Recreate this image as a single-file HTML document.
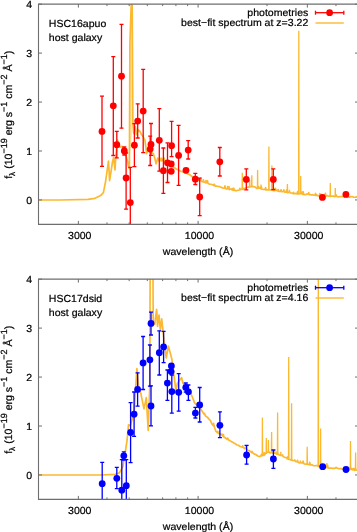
<!DOCTYPE html>
<html><head><meta charset="utf-8"><style>
html,body{margin:0;padding:0;background:#fff;width:357px;height:532px;overflow:hidden}
svg{display:block;will-change:transform}
text{fill:#000;stroke:#000;stroke-width:0.22px;text-rendering:geometricPrecision}
</style></head><body>
<svg width="357" height="532" viewBox="0 0 357 532" font-family='"Liberation Sans", sans-serif' font-size="10.55" fill="#000">
<defs></defs>
<clipPath id="c1"><rect x="38.5" y="4.1" width="320.0" height="220.3"/></clipPath>
<g clip-path="url(#c1)"><polygon points="129.9,44 132.2,0 132.9,123 129.5,160" fill="#fde6b0"/><polyline points="30.00,200.00 60.00,200.00 88.00,199.40 95.00,198.30 100.60,195.60 103.40,192.60 105.50,182.00 108.50,161.00 109.60,180.60 112.50,162.00 113.60,157.50 115.00,170.00 115.80,155.80 117.50,140.00 119.20,147.40 122.00,146.30 125.40,154.00 127.70,162.00 128.80,167.70 129.40,168.50 129.90,44.00 132.00,-20.00 132.90,123.40 133.70,133.40 135.40,126.70 136.50,134.60 138.20,130.00 139.80,131.20 141.50,134.60 143.20,136.80 144.90,140.20 146.00,148.00 146.60,153.60 148.20,150.30 149.90,146.90 151.60,152.50 153.30,153.60 155.00,159.20 156.10,163.70 157.80,158.10 159.50,161.50 161.10,158.10 161.80,161.00 163.80,157.60 165.10,161.60 170.00,164.50 175.90,168.80 180.80,171.20 184.40,172.50 189.30,174.50 195.70,179.10 197.20,179.49 198.70,180.28 199.09,179.33 199.48,180.49 200.20,180.43 200.59,178.18 200.98,180.65 201.70,181.54 203.04,181.80 203.43,179.78 203.82,182.03 204.38,182.14 205.72,182.75 206.11,180.49 206.50,182.67 207.06,182.84 207.45,180.77 207.84,183.01 208.40,183.72 209.76,184.15 211.12,184.27 212.48,184.76 213.84,185.64 214.23,184.23 214.62,184.98 215.20,186.17 216.54,186.17 217.88,186.39 219.22,186.57 220.56,187.14 221.90,187.58 223.24,188.10 224.58,188.25 224.97,185.82 225.36,188.54 225.92,188.82 227.26,188.97 227.65,186.55 228.04,188.83 228.60,188.88 228.99,186.85 229.38,189.59 230.20,189.01 231.80,189.66 232.19,188.45 232.58,190.02 233.40,190.45 233.79,188.23 234.18,189.62 235.00,190.62 236.50,190.71 238.00,190.27 239.50,190.01 239.89,188.38 240.28,189.73 240.94,189.36 242.38,189.23 242.77,188.25 243.16,189.49 243.82,188.39 245.26,188.44 246.70,187.46 248.40,187.14 250.10,186.56 251.80,186.44 253.47,186.56 255.13,187.00 256.80,188.38 258.20,188.23 258.59,186.68 258.98,188.26 259.60,187.99 261.00,188.88 261.39,186.88 261.78,188.72 262.40,189.21 263.80,189.52 265.20,189.12 265.59,187.65 265.98,190.06 266.60,189.48 268.00,189.96 269.40,189.86 270.80,190.00 272.20,190.07 273.60,190.67 273.99,188.63 274.38,190.64 275.00,190.36 275.39,188.38 275.78,190.29 276.40,190.39 277.80,191.05 278.19,189.50 278.58,190.68 279.20,191.33 280.60,191.51 280.99,189.78 281.38,191.30 282.00,191.68 283.40,191.31 283.79,189.88 284.18,191.27 284.80,192.17 286.20,191.83 286.59,189.98 286.98,192.29 287.60,192.74 289.00,192.35 289.39,190.57 289.78,192.49 290.40,192.85 291.77,193.03 293.14,193.65 293.53,192.42 293.92,193.67 294.51,193.72 295.89,193.39 297.26,194.00 297.65,191.50 298.04,193.91 298.63,193.85 300.00,193.59 301.38,193.66 301.77,192.13 302.16,193.72 302.76,194.37 303.15,191.72 303.54,194.25 304.14,194.61 305.52,194.72 306.90,193.96 308.28,194.25 308.67,192.65 309.06,194.60 309.66,194.62 311.04,194.95 312.42,194.72 313.80,195.08 315.20,195.05 315.59,193.49 315.98,195.52 316.60,194.97 318.00,195.82 319.40,195.82 319.79,193.63 320.18,195.86 320.80,195.15 321.19,194.34 321.58,195.63 322.20,195.62 323.60,196.08 323.99,194.91 324.38,195.43 325.00,195.52 325.39,193.44 325.78,196.25 326.40,195.59 327.80,195.92 329.20,196.05 330.60,196.39 331.94,196.03 333.27,196.00 334.61,196.63 335.95,196.03 336.34,195.01 336.73,196.55 337.28,196.76 338.62,196.82 339.95,196.49 341.29,196.59 342.63,196.55 343.96,196.62 344.35,194.95 344.74,196.86 345.30,196.27 346.64,196.66 347.97,197.21 349.31,197.21 350.65,196.61 351.98,196.50 353.32,197.08 354.65,197.25 355.99,197.22 357.33,196.63 358.66,196.57 359.05,194.95 359.44,196.61 360.00,197.10" fill="none" stroke="#fbb932" stroke-width="1.7" stroke-linejoin="round"/><polyline points="242.10,190.00 242.30,172.80 242.50,190.00" fill="none" stroke="#fbb932" stroke-width="1.3"/><polyline points="249.50,187.50 249.70,180.00 249.90,187.50" fill="none" stroke="#fbb932" stroke-width="1.3"/><polyline points="251.60,186.50 251.80,175.30 252.00,186.50" fill="none" stroke="#fbb932" stroke-width="1.3"/><polyline points="257.40,188.00 257.60,169.90 257.80,188.00" fill="none" stroke="#fbb932" stroke-width="1.3"/><polyline points="260.80,189.00 261.00,184.50 261.20,189.00" fill="none" stroke="#fbb932" stroke-width="1.3"/><polyline points="268.70,190.00 268.90,146.40 269.10,190.00" fill="none" stroke="#fbb932" stroke-width="1.3"/><polyline points="271.70,190.30 271.90,165.50 272.10,190.30" fill="none" stroke="#fbb932" stroke-width="1.3"/><polyline points="287.20,192.50 287.40,184.00 287.60,192.50" fill="none" stroke="#fbb932" stroke-width="1.3"/><polyline points="298.60,193.60 298.80,30.80 299.00,193.60" fill="none" stroke="#fbb932" stroke-width="1.3"/><polyline points="300.50,193.80 300.70,176.00 300.90,193.80" fill="none" stroke="#fbb932" stroke-width="1.3"/><polyline points="330.10,196.20 330.30,182.90 330.50,196.20" fill="none" stroke="#fbb932" stroke-width="1.3"/><polyline points="335.10,196.50 335.30,187.90 335.50,196.50" fill="none" stroke="#fbb932" stroke-width="1.3"/><line x1="102.0" y1="96.2" x2="102.0" y2="166.3" stroke="#ff0000" stroke-width="1.3"/><line x1="100.0" y1="96.2" x2="104.0" y2="96.2" stroke="#ff0000" stroke-width="1.3"/><line x1="100.0" y1="166.3" x2="104.0" y2="166.3" stroke="#ff0000" stroke-width="1.3"/><circle cx="102.0" cy="131.4" r="3.4" fill="#ff0000"/><line x1="113.3" y1="56.7" x2="113.3" y2="155.5" stroke="#ff0000" stroke-width="1.3"/><line x1="111.3" y1="56.7" x2="115.3" y2="56.7" stroke="#ff0000" stroke-width="1.3"/><line x1="111.3" y1="155.5" x2="115.3" y2="155.5" stroke="#ff0000" stroke-width="1.3"/><circle cx="113.3" cy="105.8" r="3.4" fill="#ff0000"/><line x1="121.5" y1="24.3" x2="121.5" y2="128.2" stroke="#ff0000" stroke-width="1.3"/><line x1="119.5" y1="24.3" x2="123.5" y2="24.3" stroke="#ff0000" stroke-width="1.3"/><line x1="119.5" y1="128.2" x2="123.5" y2="128.2" stroke="#ff0000" stroke-width="1.3"/><circle cx="121.5" cy="76.2" r="3.4" fill="#ff0000"/><line x1="116.8" y1="131.3" x2="116.8" y2="157.9" stroke="#ff0000" stroke-width="1.3"/><line x1="114.8" y1="131.3" x2="118.8" y2="131.3" stroke="#ff0000" stroke-width="1.3"/><line x1="114.8" y1="157.9" x2="118.8" y2="157.9" stroke="#ff0000" stroke-width="1.3"/><circle cx="116.8" cy="144.7" r="3.4" fill="#ff0000"/><line x1="124.3" y1="147.0" x2="124.3" y2="155.0" stroke="#ff0000" stroke-width="1.3"/><line x1="122.3" y1="147.0" x2="126.3" y2="147.0" stroke="#ff0000" stroke-width="1.3"/><line x1="122.3" y1="155.0" x2="126.3" y2="155.0" stroke="#ff0000" stroke-width="1.3"/><circle cx="124.3" cy="151.0" r="3.4" fill="#ff0000"/><line x1="126.1" y1="153.0" x2="126.1" y2="209.2" stroke="#ff0000" stroke-width="1.3"/><line x1="124.1" y1="153.0" x2="128.1" y2="153.0" stroke="#ff0000" stroke-width="1.3"/><line x1="124.1" y1="209.2" x2="128.1" y2="209.2" stroke="#ff0000" stroke-width="1.3"/><circle cx="126.1" cy="178.0" r="3.4" fill="#ff0000"/><line x1="130.3" y1="167.3" x2="130.3" y2="230.0" stroke="#ff0000" stroke-width="1.3"/><line x1="128.3" y1="167.3" x2="132.3" y2="167.3" stroke="#ff0000" stroke-width="1.3"/><line x1="128.3" y1="230.0" x2="132.3" y2="230.0" stroke="#ff0000" stroke-width="1.3"/><circle cx="130.3" cy="202.6" r="3.4" fill="#ff0000"/><line x1="134.4" y1="123.7" x2="134.4" y2="166.6" stroke="#ff0000" stroke-width="1.3"/><line x1="132.4" y1="123.7" x2="136.4" y2="123.7" stroke="#ff0000" stroke-width="1.3"/><line x1="132.4" y1="166.6" x2="136.4" y2="166.6" stroke="#ff0000" stroke-width="1.3"/><circle cx="134.4" cy="145.2" r="3.4" fill="#ff0000"/><line x1="137.7" y1="103.8" x2="137.7" y2="138.0" stroke="#ff0000" stroke-width="1.3"/><line x1="135.7" y1="103.8" x2="139.7" y2="103.8" stroke="#ff0000" stroke-width="1.3"/><line x1="135.7" y1="138.0" x2="139.7" y2="138.0" stroke="#ff0000" stroke-width="1.3"/><circle cx="137.7" cy="121.1" r="3.4" fill="#ff0000"/><line x1="143.2" y1="69.4" x2="143.2" y2="152.7" stroke="#ff0000" stroke-width="1.3"/><line x1="141.2" y1="69.4" x2="145.2" y2="69.4" stroke="#ff0000" stroke-width="1.3"/><line x1="141.2" y1="152.7" x2="145.2" y2="152.7" stroke="#ff0000" stroke-width="1.3"/><circle cx="143.2" cy="111.1" r="3.4" fill="#ff0000"/><line x1="151.0" y1="123.5" x2="151.0" y2="155.4" stroke="#ff0000" stroke-width="1.3"/><line x1="149.0" y1="123.5" x2="153.0" y2="123.5" stroke="#ff0000" stroke-width="1.3"/><line x1="149.0" y1="155.4" x2="153.0" y2="155.4" stroke="#ff0000" stroke-width="1.3"/><circle cx="151.0" cy="144.5" r="3.4" fill="#ff0000"/><line x1="150.2" y1="136.2" x2="150.2" y2="165.5" stroke="#ff0000" stroke-width="1.3"/><line x1="148.2" y1="136.2" x2="152.2" y2="136.2" stroke="#ff0000" stroke-width="1.3"/><line x1="148.2" y1="165.5" x2="152.2" y2="165.5" stroke="#ff0000" stroke-width="1.3"/><circle cx="150.2" cy="149.1" r="3.4" fill="#ff0000"/><line x1="159.3" y1="108.7" x2="159.3" y2="171.2" stroke="#ff0000" stroke-width="1.3"/><line x1="157.3" y1="108.7" x2="161.3" y2="108.7" stroke="#ff0000" stroke-width="1.3"/><line x1="157.3" y1="171.2" x2="161.3" y2="171.2" stroke="#ff0000" stroke-width="1.3"/><circle cx="159.3" cy="140.3" r="3.4" fill="#ff0000"/><line x1="163.4" y1="148.0" x2="163.4" y2="193.4" stroke="#ff0000" stroke-width="1.3"/><line x1="161.4" y1="148.0" x2="165.4" y2="148.0" stroke="#ff0000" stroke-width="1.3"/><line x1="161.4" y1="193.4" x2="165.4" y2="193.4" stroke="#ff0000" stroke-width="1.3"/><circle cx="163.4" cy="170.7" r="3.4" fill="#ff0000"/><line x1="167.5" y1="142.9" x2="167.5" y2="182.5" stroke="#ff0000" stroke-width="1.3"/><line x1="165.5" y1="142.9" x2="169.5" y2="142.9" stroke="#ff0000" stroke-width="1.3"/><line x1="165.5" y1="182.5" x2="169.5" y2="182.5" stroke="#ff0000" stroke-width="1.3"/><circle cx="167.5" cy="162.8" r="3.4" fill="#ff0000"/><line x1="171.6" y1="121.4" x2="171.6" y2="156.6" stroke="#ff0000" stroke-width="1.3"/><line x1="169.6" y1="121.4" x2="173.6" y2="121.4" stroke="#ff0000" stroke-width="1.3"/><line x1="169.6" y1="156.6" x2="173.6" y2="156.6" stroke="#ff0000" stroke-width="1.3"/><circle cx="171.6" cy="145.7" r="3.4" fill="#ff0000"/><circle cx="171.2" cy="164.0" r="3.4" fill="#ff0000"/><circle cx="171.2" cy="171.3" r="3.4" fill="#ff0000"/><line x1="178.6" y1="125.4" x2="178.6" y2="185.3" stroke="#ff0000" stroke-width="1.3"/><line x1="176.6" y1="125.4" x2="180.6" y2="125.4" stroke="#ff0000" stroke-width="1.3"/><line x1="176.6" y1="185.3" x2="180.6" y2="185.3" stroke="#ff0000" stroke-width="1.3"/><circle cx="178.6" cy="155.4" r="3.4" fill="#ff0000"/><circle cx="186.0" cy="170.3" r="3.4" fill="#ff0000"/><line x1="188.2" y1="140.7" x2="188.2" y2="159.0" stroke="#ff0000" stroke-width="1.3"/><line x1="186.2" y1="140.7" x2="190.2" y2="140.7" stroke="#ff0000" stroke-width="1.3"/><line x1="186.2" y1="159.0" x2="190.2" y2="159.0" stroke="#ff0000" stroke-width="1.3"/><circle cx="188.2" cy="150.1" r="3.4" fill="#ff0000"/><line x1="195.3" y1="173.4" x2="195.3" y2="184.5" stroke="#ff0000" stroke-width="1.3"/><line x1="193.3" y1="173.4" x2="197.3" y2="173.4" stroke="#ff0000" stroke-width="1.3"/><line x1="193.3" y1="184.5" x2="197.3" y2="184.5" stroke="#ff0000" stroke-width="1.3"/><circle cx="195.3" cy="179.2" r="3.4" fill="#ff0000"/><line x1="199.7" y1="178.2" x2="199.7" y2="215.7" stroke="#ff0000" stroke-width="1.3"/><line x1="197.7" y1="178.2" x2="201.7" y2="178.2" stroke="#ff0000" stroke-width="1.3"/><line x1="197.7" y1="215.7" x2="201.7" y2="215.7" stroke="#ff0000" stroke-width="1.3"/><circle cx="199.7" cy="197.0" r="3.4" fill="#ff0000"/><line x1="219.8" y1="147.5" x2="219.8" y2="176.0" stroke="#ff0000" stroke-width="1.3"/><line x1="217.8" y1="147.5" x2="221.8" y2="147.5" stroke="#ff0000" stroke-width="1.3"/><line x1="217.8" y1="176.0" x2="221.8" y2="176.0" stroke="#ff0000" stroke-width="1.3"/><circle cx="219.8" cy="161.8" r="3.4" fill="#ff0000"/><line x1="246.3" y1="168.9" x2="246.3" y2="189.8" stroke="#ff0000" stroke-width="1.3"/><line x1="244.3" y1="168.9" x2="248.3" y2="168.9" stroke="#ff0000" stroke-width="1.3"/><line x1="244.3" y1="189.8" x2="248.3" y2="189.8" stroke="#ff0000" stroke-width="1.3"/><circle cx="246.3" cy="179.4" r="3.4" fill="#ff0000"/><line x1="273.3" y1="168.9" x2="273.3" y2="189.6" stroke="#ff0000" stroke-width="1.3"/><line x1="271.3" y1="168.9" x2="275.3" y2="168.9" stroke="#ff0000" stroke-width="1.3"/><line x1="271.3" y1="189.6" x2="275.3" y2="189.6" stroke="#ff0000" stroke-width="1.3"/><circle cx="273.3" cy="179.4" r="3.4" fill="#ff0000"/><circle cx="322.4" cy="197.4" r="3.4" fill="#ff0000"/><circle cx="345.9" cy="194.4" r="3.4" fill="#ff0000"/></g>
<path d="M38.5,4.1 H358.5 V224.4 H38.5 Z" fill="none" stroke="#6e6e6e" stroke-width="1.1"/>
<line x1="38.5" y1="199.95" x2="42.0" y2="199.95" stroke="#6e6e6e" stroke-width="1"/>
<line x1="355.0" y1="199.95" x2="358.5" y2="199.95" stroke="#6e6e6e" stroke-width="1"/>
<text transform="translate(29.20,203.65) scale(1,0.97)" text-anchor="middle">0</text>
<line x1="38.5" y1="151.00" x2="42.0" y2="151.00" stroke="#6e6e6e" stroke-width="1"/>
<line x1="355.0" y1="151.00" x2="358.5" y2="151.00" stroke="#6e6e6e" stroke-width="1"/>
<text transform="translate(29.20,154.70) scale(1,0.97)" text-anchor="middle">1</text>
<line x1="38.5" y1="102.05" x2="42.0" y2="102.05" stroke="#6e6e6e" stroke-width="1"/>
<line x1="355.0" y1="102.05" x2="358.5" y2="102.05" stroke="#6e6e6e" stroke-width="1"/>
<text transform="translate(29.20,105.75) scale(1,0.97)" text-anchor="middle">2</text>
<line x1="38.5" y1="53.10" x2="42.0" y2="53.10" stroke="#6e6e6e" stroke-width="1"/>
<line x1="355.0" y1="53.10" x2="358.5" y2="53.10" stroke="#6e6e6e" stroke-width="1"/>
<text transform="translate(29.20,56.80) scale(1,0.97)" text-anchor="middle">3</text>
<line x1="38.5" y1="4.15" x2="42.0" y2="4.15" stroke="#6e6e6e" stroke-width="1"/>
<line x1="355.0" y1="4.15" x2="358.5" y2="4.15" stroke="#6e6e6e" stroke-width="1"/>
<text transform="translate(29.20,7.85) scale(1,0.97)" text-anchor="middle">4</text>
<line x1="78.36" y1="224.4" x2="78.36" y2="220.9" stroke="#6e6e6e" stroke-width="1"/>
<line x1="78.36" y1="4.1" x2="78.36" y2="7.6" stroke="#6e6e6e" stroke-width="1"/>
<text transform="translate(79.76,239.20) scale(1,0.97)" text-anchor="middle">3000</text>
<line x1="198.10" y1="224.4" x2="198.10" y2="220.9" stroke="#6e6e6e" stroke-width="1"/>
<line x1="198.10" y1="4.1" x2="198.10" y2="7.6" stroke="#6e6e6e" stroke-width="1"/>
<text transform="translate(199.50,239.20) scale(1,0.97)" text-anchor="middle">10000</text>
<line x1="307.36" y1="224.4" x2="307.36" y2="220.9" stroke="#6e6e6e" stroke-width="1"/>
<line x1="307.36" y1="4.1" x2="307.36" y2="7.6" stroke="#6e6e6e" stroke-width="1"/>
<text transform="translate(308.76,239.20) scale(1,0.97)" text-anchor="middle">30000</text>
<line x1="106.97" y1="224.4" x2="106.97" y2="222.4" stroke="#6e6e6e" stroke-width="1"/>
<line x1="106.97" y1="4.1" x2="106.97" y2="6.1" stroke="#6e6e6e" stroke-width="1"/>
<line x1="129.16" y1="224.4" x2="129.16" y2="222.4" stroke="#6e6e6e" stroke-width="1"/>
<line x1="129.16" y1="4.1" x2="129.16" y2="6.1" stroke="#6e6e6e" stroke-width="1"/>
<line x1="147.30" y1="224.4" x2="147.30" y2="222.4" stroke="#6e6e6e" stroke-width="1"/>
<line x1="147.30" y1="4.1" x2="147.30" y2="6.1" stroke="#6e6e6e" stroke-width="1"/>
<line x1="162.63" y1="224.4" x2="162.63" y2="222.4" stroke="#6e6e6e" stroke-width="1"/>
<line x1="162.63" y1="4.1" x2="162.63" y2="6.1" stroke="#6e6e6e" stroke-width="1"/>
<line x1="175.91" y1="224.4" x2="175.91" y2="222.4" stroke="#6e6e6e" stroke-width="1"/>
<line x1="175.91" y1="4.1" x2="175.91" y2="6.1" stroke="#6e6e6e" stroke-width="1"/>
<line x1="187.62" y1="224.4" x2="187.62" y2="222.4" stroke="#6e6e6e" stroke-width="1"/>
<line x1="187.62" y1="4.1" x2="187.62" y2="6.1" stroke="#6e6e6e" stroke-width="1"/>
<line x1="267.04" y1="224.4" x2="267.04" y2="222.4" stroke="#6e6e6e" stroke-width="1"/>
<line x1="267.04" y1="4.1" x2="267.04" y2="6.1" stroke="#6e6e6e" stroke-width="1"/>
<line x1="335.97" y1="224.4" x2="335.97" y2="222.4" stroke="#6e6e6e" stroke-width="1"/>
<line x1="335.97" y1="4.1" x2="335.97" y2="6.1" stroke="#6e6e6e" stroke-width="1"/>
<text transform="translate(198.00,254.50) scale(1,0.97)" text-anchor="middle">wavelength (&#197;)</text>
<text transform="translate(11.6,114.75) rotate(-90)" text-anchor="middle">f<tspan font-size="8.3" dy="3.4">&#955;</tspan><tspan dy="-3.4"> (10</tspan><tspan font-size="9.0" dy="-4.6">&#8722;19</tspan><tspan dy="4.6"> erg s</tspan><tspan font-size="9.0" dy="-4.6">&#8722;1</tspan><tspan dy="4.6"> cm</tspan><tspan font-size="9.0" dy="-4.6">&#8722;2</tspan><tspan dy="4.6"> &#197;</tspan><tspan font-size="9.0" dy="-4.6">&#8722;1</tspan><tspan dy="4.6">)</tspan></text>
<text transform="translate(48.80,27.30) scale(1,0.97)">HSC16apuo</text>
<text transform="translate(48.80,41.00) scale(1,0.97)">host galaxy</text>
<text transform="translate(308.30,16.40) scale(1,0.97)" text-anchor="end">photometries</text>
<text transform="translate(308.30,26.40) scale(1,0.97)" text-anchor="end">best&#8722;fit spectrum at z=3.22</text>
<line x1="315.5" y1="12.7" x2="343.8" y2="12.7" stroke="#ff0000" stroke-width="1.3"/>
<line x1="315.5" y1="10.7" x2="315.5" y2="14.7" stroke="#ff0000" stroke-width="1.3"/>
<line x1="343.8" y1="10.7" x2="343.8" y2="14.7" stroke="#ff0000" stroke-width="1.3"/>
<circle cx="329.6" cy="12.7" r="3.4" fill="#ff0000"/>
<line x1="315.5" y1="23.0" x2="343.8" y2="23.0" stroke="#fbb932" stroke-width="1.4"/>
<clipPath id="c2"><rect x="38.5" y="279.1" width="320.0" height="220.29999999999995"/></clipPath>
<g clip-path="url(#c2)"><polygon points="150.2,-30 153.0,-30 153.2,47 149.9,110" fill="#fde6b0"/><polyline points="30.00,475.00 100.00,475.00 115.20,474.30 119.40,472.90 122.90,466.60 125.00,454.00 127.10,440.00 128.50,424.80 130.30,425.80 134.10,412.60 136.90,368.50 138.80,388.20 140.70,392.90 144.00,408.90 146.30,397.60 148.20,430.50 149.80,385.00 150.20,250.00 152.90,250.00 153.20,322.00 154.70,324.40 156.60,309.40 157.50,326.30 159.00,315.00 160.30,330.00 161.70,318.80 163.40,334.20 164.80,346.80 166.20,358.00 168.30,346.10 169.70,351.00 171.80,358.70 173.90,374.80 176.00,391.60 177.40,383.20 179.50,380.40 181.60,377.60 183.00,383.20 185.50,385.50 188.60,388.80 190.00,392.00 190.39,389.70 190.78,391.68 191.47,394.99 192.93,398.55 194.40,402.57 195.70,404.22 197.00,405.43 197.39,403.03 197.78,405.14 198.30,406.72 198.69,404.43 199.08,406.93 200.15,408.31 202.00,411.06 204.10,414.24 204.49,413.28 204.88,414.62 205.85,416.25 207.60,417.37 209.00,419.10 210.40,420.58 211.80,423.64 213.20,425.58 213.59,423.36 213.98,425.59 214.60,427.67 216.00,431.48 217.40,432.73 217.79,431.37 218.18,432.58 218.80,433.58 220.20,433.94 221.60,434.94 221.99,434.11 222.38,435.34 223.00,436.31 223.39,434.53 223.78,436.95 224.40,437.20 225.80,438.21 227.20,439.26 227.59,438.01 227.98,438.70 228.60,440.03 230.00,440.60 231.40,441.62 232.80,442.17 234.20,443.23 235.60,443.94 237.00,445.02 238.33,445.28 239.67,446.26 241.00,446.73 242.33,447.07 242.72,445.90 243.11,447.32 243.67,447.88 245.00,448.65 245.39,447.18 245.78,448.06 246.34,448.81 247.68,450.30 249.02,450.52 250.36,451.39 251.70,452.63 252.09,451.44 252.48,452.73 253.04,453.01 254.38,454.12 255.72,454.37 257.06,455.62 258.40,456.21 259.72,456.58 261.05,455.79 261.44,454.48 261.83,455.92 262.38,454.99 263.70,455.41 264.09,452.60 264.48,454.87 265.00,454.27 266.30,452.80 267.60,452.15 268.92,452.01 270.24,452.94 271.56,452.76 271.95,451.08 272.34,452.57 272.88,453.18 274.20,453.27 274.59,451.30 274.98,453.33 275.52,453.31 276.83,454.22 277.22,451.68 277.61,453.71 278.15,454.33 279.47,455.03 280.78,455.51 282.10,455.61 282.49,454.88 282.88,456.02 283.42,456.70 284.73,457.34 286.05,457.52 287.37,458.77 287.76,456.74 288.15,458.15 288.68,459.32 290.00,459.53 291.43,460.17 292.86,460.41 294.29,460.60 294.68,460.02 295.07,460.60 295.71,461.69 297.14,461.53 297.53,460.33 297.92,462.09 298.57,462.59 300.00,462.79 300.39,461.22 300.78,462.39 301.33,462.99 302.67,462.94 303.06,461.10 303.45,462.76 304.00,463.80 305.33,464.22 306.67,464.09 308.00,464.43 309.33,464.77 309.72,462.32 310.11,464.57 310.67,464.97 312.00,464.65 313.33,465.60 314.67,465.74 316.00,465.69 317.40,465.72 318.80,466.52 320.20,466.63 321.60,467.14 321.99,464.60 322.38,466.87 323.00,466.49 324.40,466.86 324.79,465.41 325.18,467.55 325.80,467.14 327.20,467.69 327.59,465.24 327.98,467.60 328.62,468.06 330.04,468.01 331.47,468.21 332.89,468.39 334.31,468.42 335.73,467.91 336.12,467.37 336.51,468.00 337.16,468.09 338.58,468.77 340.00,468.62 341.33,468.64 342.67,469.22 344.00,468.78 345.33,469.45 346.67,469.24 348.00,469.60 348.39,468.70 348.78,469.21 349.33,469.92 349.72,468.05 350.11,469.33 350.67,469.48 351.06,468.28 351.45,469.43 352.00,469.43 352.39,468.81 352.78,469.89 353.33,469.59 353.72,468.47 354.11,469.94 354.67,470.37 355.06,468.68 355.45,470.06 356.00,469.83 357.33,470.15 357.72,468.83 358.11,470.10 358.67,470.69 360.00,470.70" fill="none" stroke="#fbb932" stroke-width="1.7" stroke-linejoin="round"/><polyline points="262.20,456.00 262.40,417.60 262.60,456.00" fill="none" stroke="#fbb932" stroke-width="1.3"/><polyline points="266.10,454.00 266.30,437.90 266.50,454.00" fill="none" stroke="#fbb932" stroke-width="1.3"/><polyline points="268.20,453.00 268.40,440.00 268.60,453.00" fill="none" stroke="#fbb932" stroke-width="1.3"/><polyline points="271.40,453.00 271.60,432.10 271.80,453.00" fill="none" stroke="#fbb932" stroke-width="1.3"/><polyline points="277.40,454.00 277.60,412.40 277.80,454.00" fill="none" stroke="#fbb932" stroke-width="1.3"/><polyline points="280.60,455.00 280.80,451.80 281.00,455.00" fill="none" stroke="#fbb932" stroke-width="1.3"/><polyline points="288.50,459.00 288.70,357.10 288.90,459.00" fill="none" stroke="#fbb932" stroke-width="1.3"/><polyline points="291.40,460.00 291.60,403.20 291.80,460.00" fill="none" stroke="#fbb932" stroke-width="1.3"/><polyline points="307.00,464.00 307.20,446.80 307.40,464.00" fill="none" stroke="#fbb932" stroke-width="1.3"/><polyline points="318.10,466.00 318.30,200.00 318.50,466.00" fill="none" stroke="#fbb932" stroke-width="1.3"/><polyline points="320.40,466.00 320.60,428.50 320.80,466.00" fill="none" stroke="#fbb932" stroke-width="1.3"/><polyline points="326.60,467.50 326.80,463.00 327.00,467.50" fill="none" stroke="#fbb932" stroke-width="1.3"/><polyline points="350.30,469.50 350.50,440.90 350.70,469.50" fill="none" stroke="#fbb932" stroke-width="1.3"/><polyline points="355.40,470.00 355.60,452.40 355.80,470.00" fill="none" stroke="#fbb932" stroke-width="1.3"/><line x1="102.2" y1="462.4" x2="102.2" y2="520.0" stroke="#0000ff" stroke-width="1.3"/><line x1="100.2" y1="462.4" x2="104.2" y2="462.4" stroke="#0000ff" stroke-width="1.3"/><line x1="100.2" y1="520.0" x2="104.2" y2="520.0" stroke="#0000ff" stroke-width="1.3"/><circle cx="102.2" cy="483.7" r="3.4" fill="#0000ff"/><line x1="116.8" y1="467.4" x2="116.8" y2="488.7" stroke="#0000ff" stroke-width="1.3"/><line x1="114.8" y1="467.4" x2="118.8" y2="467.4" stroke="#0000ff" stroke-width="1.3"/><line x1="114.8" y1="488.7" x2="118.8" y2="488.7" stroke="#0000ff" stroke-width="1.3"/><circle cx="116.8" cy="478.3" r="3.4" fill="#0000ff"/><line x1="121.8" y1="459.6" x2="121.8" y2="520.0" stroke="#0000ff" stroke-width="1.3"/><line x1="119.8" y1="459.6" x2="123.8" y2="459.6" stroke="#0000ff" stroke-width="1.3"/><line x1="119.8" y1="520.0" x2="123.8" y2="520.0" stroke="#0000ff" stroke-width="1.3"/><circle cx="121.8" cy="490.2" r="3.4" fill="#0000ff"/><line x1="126.3" y1="459.6" x2="126.3" y2="520.0" stroke="#0000ff" stroke-width="1.3"/><line x1="124.3" y1="459.6" x2="128.3" y2="459.6" stroke="#0000ff" stroke-width="1.3"/><line x1="124.3" y1="520.0" x2="128.3" y2="520.0" stroke="#0000ff" stroke-width="1.3"/><circle cx="126.3" cy="485.7" r="3.4" fill="#0000ff"/><line x1="123.8" y1="451.8" x2="123.8" y2="460.0" stroke="#0000ff" stroke-width="1.3"/><line x1="121.8" y1="451.8" x2="125.8" y2="451.8" stroke="#0000ff" stroke-width="1.3"/><line x1="121.8" y1="460.0" x2="125.8" y2="460.0" stroke="#0000ff" stroke-width="1.3"/><circle cx="123.8" cy="455.8" r="3.4" fill="#0000ff"/><line x1="130.6" y1="402.7" x2="130.6" y2="462.7" stroke="#0000ff" stroke-width="1.3"/><line x1="128.6" y1="402.7" x2="132.6" y2="402.7" stroke="#0000ff" stroke-width="1.3"/><line x1="128.6" y1="462.7" x2="132.6" y2="462.7" stroke="#0000ff" stroke-width="1.3"/><circle cx="130.6" cy="432.5" r="3.4" fill="#0000ff"/><line x1="134.1" y1="392.0" x2="134.1" y2="436.3" stroke="#0000ff" stroke-width="1.3"/><line x1="132.1" y1="392.0" x2="136.1" y2="392.0" stroke="#0000ff" stroke-width="1.3"/><line x1="132.1" y1="436.3" x2="136.1" y2="436.3" stroke="#0000ff" stroke-width="1.3"/><circle cx="134.1" cy="414.2" r="3.4" fill="#0000ff"/><line x1="137.6" y1="372.8" x2="137.6" y2="406.1" stroke="#0000ff" stroke-width="1.3"/><line x1="135.6" y1="372.8" x2="139.6" y2="372.8" stroke="#0000ff" stroke-width="1.3"/><line x1="135.6" y1="406.1" x2="139.6" y2="406.1" stroke="#0000ff" stroke-width="1.3"/><circle cx="137.6" cy="389.4" r="3.4" fill="#0000ff"/><line x1="151.0" y1="385.9" x2="151.0" y2="425.9" stroke="#0000ff" stroke-width="1.3"/><line x1="149.0" y1="385.9" x2="153.0" y2="385.9" stroke="#0000ff" stroke-width="1.3"/><line x1="149.0" y1="425.9" x2="153.0" y2="425.9" stroke="#0000ff" stroke-width="1.3"/><circle cx="151.0" cy="406.0" r="3.4" fill="#0000ff"/><line x1="151.0" y1="312.2" x2="151.0" y2="335.0" stroke="#0000ff" stroke-width="1.3"/><line x1="149.0" y1="312.2" x2="153.0" y2="312.2" stroke="#0000ff" stroke-width="1.3"/><line x1="149.0" y1="335.0" x2="153.0" y2="335.0" stroke="#0000ff" stroke-width="1.3"/><circle cx="151.0" cy="323.4" r="3.4" fill="#0000ff"/><line x1="143.1" y1="336.5" x2="143.1" y2="389.5" stroke="#0000ff" stroke-width="1.3"/><line x1="141.1" y1="336.5" x2="145.1" y2="336.5" stroke="#0000ff" stroke-width="1.3"/><line x1="141.1" y1="389.5" x2="145.1" y2="389.5" stroke="#0000ff" stroke-width="1.3"/><circle cx="143.1" cy="362.9" r="3.4" fill="#0000ff"/><line x1="149.9" y1="345.0" x2="149.9" y2="386.2" stroke="#0000ff" stroke-width="1.3"/><line x1="147.9" y1="345.0" x2="151.9" y2="345.0" stroke="#0000ff" stroke-width="1.3"/><line x1="147.9" y1="386.2" x2="151.9" y2="386.2" stroke="#0000ff" stroke-width="1.3"/><circle cx="149.9" cy="359.8" r="3.4" fill="#0000ff"/><line x1="159.3" y1="330.8" x2="159.3" y2="375.0" stroke="#0000ff" stroke-width="1.3"/><line x1="157.3" y1="330.8" x2="161.3" y2="330.8" stroke="#0000ff" stroke-width="1.3"/><line x1="157.3" y1="375.0" x2="161.3" y2="375.0" stroke="#0000ff" stroke-width="1.3"/><circle cx="159.3" cy="352.7" r="3.4" fill="#0000ff"/><line x1="163.6" y1="331.3" x2="163.6" y2="362.7" stroke="#0000ff" stroke-width="1.3"/><line x1="161.6" y1="331.3" x2="165.6" y2="331.3" stroke="#0000ff" stroke-width="1.3"/><line x1="161.6" y1="362.7" x2="165.6" y2="362.7" stroke="#0000ff" stroke-width="1.3"/><circle cx="163.6" cy="346.9" r="3.4" fill="#0000ff"/><circle cx="171.4" cy="366.0" r="3.4" fill="#0000ff"/><circle cx="171.1" cy="371.6" r="3.4" fill="#0000ff"/><line x1="167.4" y1="370.0" x2="167.4" y2="400.4" stroke="#0000ff" stroke-width="1.3"/><line x1="165.4" y1="370.0" x2="169.4" y2="370.0" stroke="#0000ff" stroke-width="1.3"/><line x1="165.4" y1="400.4" x2="169.4" y2="400.4" stroke="#0000ff" stroke-width="1.3"/><circle cx="167.4" cy="383.1" r="3.4" fill="#0000ff"/><line x1="171.8" y1="375.0" x2="171.8" y2="413.1" stroke="#0000ff" stroke-width="1.3"/><line x1="169.8" y1="375.0" x2="173.8" y2="375.0" stroke="#0000ff" stroke-width="1.3"/><line x1="169.8" y1="413.1" x2="173.8" y2="413.1" stroke="#0000ff" stroke-width="1.3"/><circle cx="171.8" cy="391.6" r="3.4" fill="#0000ff"/><line x1="178.7" y1="373.6" x2="178.7" y2="411.2" stroke="#0000ff" stroke-width="1.3"/><line x1="176.7" y1="373.6" x2="180.7" y2="373.6" stroke="#0000ff" stroke-width="1.3"/><line x1="176.7" y1="411.2" x2="180.7" y2="411.2" stroke="#0000ff" stroke-width="1.3"/><circle cx="178.7" cy="392.3" r="3.4" fill="#0000ff"/><line x1="185.8" y1="383.0" x2="185.8" y2="392.0" stroke="#0000ff" stroke-width="1.3"/><line x1="183.8" y1="383.0" x2="187.8" y2="383.0" stroke="#0000ff" stroke-width="1.3"/><line x1="183.8" y1="392.0" x2="187.8" y2="392.0" stroke="#0000ff" stroke-width="1.3"/><circle cx="185.8" cy="387.4" r="3.4" fill="#0000ff"/><line x1="188.4" y1="385.0" x2="188.4" y2="400.4" stroke="#0000ff" stroke-width="1.3"/><line x1="186.4" y1="385.0" x2="190.4" y2="385.0" stroke="#0000ff" stroke-width="1.3"/><line x1="186.4" y1="400.4" x2="190.4" y2="400.4" stroke="#0000ff" stroke-width="1.3"/><circle cx="188.4" cy="391.8" r="3.4" fill="#0000ff"/><line x1="199.7" y1="387.5" x2="199.7" y2="422.0" stroke="#0000ff" stroke-width="1.3"/><line x1="197.7" y1="387.5" x2="201.7" y2="387.5" stroke="#0000ff" stroke-width="1.3"/><line x1="197.7" y1="422.0" x2="201.7" y2="422.0" stroke="#0000ff" stroke-width="1.3"/><circle cx="199.7" cy="404.9" r="3.4" fill="#0000ff"/><line x1="195.4" y1="407.3" x2="195.4" y2="418.0" stroke="#0000ff" stroke-width="1.3"/><line x1="193.4" y1="407.3" x2="197.4" y2="407.3" stroke="#0000ff" stroke-width="1.3"/><line x1="193.4" y1="418.0" x2="197.4" y2="418.0" stroke="#0000ff" stroke-width="1.3"/><circle cx="195.4" cy="413.1" r="3.4" fill="#0000ff"/><line x1="219.9" y1="411.8" x2="219.9" y2="437.6" stroke="#0000ff" stroke-width="1.3"/><line x1="217.9" y1="411.8" x2="221.9" y2="411.8" stroke="#0000ff" stroke-width="1.3"/><line x1="217.9" y1="437.6" x2="221.9" y2="437.6" stroke="#0000ff" stroke-width="1.3"/><circle cx="219.9" cy="425.3" r="3.4" fill="#0000ff"/><line x1="246.6" y1="445.3" x2="246.6" y2="464.2" stroke="#0000ff" stroke-width="1.3"/><line x1="244.6" y1="445.3" x2="248.6" y2="445.3" stroke="#0000ff" stroke-width="1.3"/><line x1="244.6" y1="464.2" x2="248.6" y2="464.2" stroke="#0000ff" stroke-width="1.3"/><circle cx="246.6" cy="455.0" r="3.4" fill="#0000ff"/><line x1="273.4" y1="450.0" x2="273.4" y2="468.4" stroke="#0000ff" stroke-width="1.3"/><line x1="271.4" y1="450.0" x2="275.4" y2="450.0" stroke="#0000ff" stroke-width="1.3"/><line x1="271.4" y1="468.4" x2="275.4" y2="468.4" stroke="#0000ff" stroke-width="1.3"/><circle cx="273.4" cy="459.0" r="3.4" fill="#0000ff"/><circle cx="322.7" cy="466.7" r="3.4" fill="#0000ff"/><circle cx="346.0" cy="469.5" r="3.4" fill="#0000ff"/></g>
<path d="M38.5,279.1 H358.5 V499.4 H38.5 Z" fill="none" stroke="#6e6e6e" stroke-width="1.1"/>
<line x1="38.5" y1="474.95" x2="42.0" y2="474.95" stroke="#6e6e6e" stroke-width="1"/>
<line x1="355.0" y1="474.95" x2="358.5" y2="474.95" stroke="#6e6e6e" stroke-width="1"/>
<text transform="translate(29.20,478.65) scale(1,0.97)" text-anchor="middle">0</text>
<line x1="38.5" y1="426.00" x2="42.0" y2="426.00" stroke="#6e6e6e" stroke-width="1"/>
<line x1="355.0" y1="426.00" x2="358.5" y2="426.00" stroke="#6e6e6e" stroke-width="1"/>
<text transform="translate(29.20,429.70) scale(1,0.97)" text-anchor="middle">1</text>
<line x1="38.5" y1="377.05" x2="42.0" y2="377.05" stroke="#6e6e6e" stroke-width="1"/>
<line x1="355.0" y1="377.05" x2="358.5" y2="377.05" stroke="#6e6e6e" stroke-width="1"/>
<text transform="translate(29.20,380.75) scale(1,0.97)" text-anchor="middle">2</text>
<line x1="38.5" y1="328.10" x2="42.0" y2="328.10" stroke="#6e6e6e" stroke-width="1"/>
<line x1="355.0" y1="328.10" x2="358.5" y2="328.10" stroke="#6e6e6e" stroke-width="1"/>
<text transform="translate(29.20,331.80) scale(1,0.97)" text-anchor="middle">3</text>
<line x1="38.5" y1="279.15" x2="42.0" y2="279.15" stroke="#6e6e6e" stroke-width="1"/>
<line x1="355.0" y1="279.15" x2="358.5" y2="279.15" stroke="#6e6e6e" stroke-width="1"/>
<text transform="translate(29.20,282.85) scale(1,0.97)" text-anchor="middle">4</text>
<line x1="78.36" y1="499.4" x2="78.36" y2="495.9" stroke="#6e6e6e" stroke-width="1"/>
<line x1="78.36" y1="279.1" x2="78.36" y2="282.6" stroke="#6e6e6e" stroke-width="1"/>
<text transform="translate(79.76,514.20) scale(1,0.97)" text-anchor="middle">3000</text>
<line x1="198.10" y1="499.4" x2="198.10" y2="495.9" stroke="#6e6e6e" stroke-width="1"/>
<line x1="198.10" y1="279.1" x2="198.10" y2="282.6" stroke="#6e6e6e" stroke-width="1"/>
<text transform="translate(199.50,514.20) scale(1,0.97)" text-anchor="middle">10000</text>
<line x1="307.36" y1="499.4" x2="307.36" y2="495.9" stroke="#6e6e6e" stroke-width="1"/>
<line x1="307.36" y1="279.1" x2="307.36" y2="282.6" stroke="#6e6e6e" stroke-width="1"/>
<text transform="translate(308.76,514.20) scale(1,0.97)" text-anchor="middle">30000</text>
<line x1="106.97" y1="499.4" x2="106.97" y2="497.4" stroke="#6e6e6e" stroke-width="1"/>
<line x1="106.97" y1="279.1" x2="106.97" y2="281.1" stroke="#6e6e6e" stroke-width="1"/>
<line x1="129.16" y1="499.4" x2="129.16" y2="497.4" stroke="#6e6e6e" stroke-width="1"/>
<line x1="129.16" y1="279.1" x2="129.16" y2="281.1" stroke="#6e6e6e" stroke-width="1"/>
<line x1="147.30" y1="499.4" x2="147.30" y2="497.4" stroke="#6e6e6e" stroke-width="1"/>
<line x1="147.30" y1="279.1" x2="147.30" y2="281.1" stroke="#6e6e6e" stroke-width="1"/>
<line x1="162.63" y1="499.4" x2="162.63" y2="497.4" stroke="#6e6e6e" stroke-width="1"/>
<line x1="162.63" y1="279.1" x2="162.63" y2="281.1" stroke="#6e6e6e" stroke-width="1"/>
<line x1="175.91" y1="499.4" x2="175.91" y2="497.4" stroke="#6e6e6e" stroke-width="1"/>
<line x1="175.91" y1="279.1" x2="175.91" y2="281.1" stroke="#6e6e6e" stroke-width="1"/>
<line x1="187.62" y1="499.4" x2="187.62" y2="497.4" stroke="#6e6e6e" stroke-width="1"/>
<line x1="187.62" y1="279.1" x2="187.62" y2="281.1" stroke="#6e6e6e" stroke-width="1"/>
<line x1="267.04" y1="499.4" x2="267.04" y2="497.4" stroke="#6e6e6e" stroke-width="1"/>
<line x1="267.04" y1="279.1" x2="267.04" y2="281.1" stroke="#6e6e6e" stroke-width="1"/>
<line x1="335.97" y1="499.4" x2="335.97" y2="497.4" stroke="#6e6e6e" stroke-width="1"/>
<line x1="335.97" y1="279.1" x2="335.97" y2="281.1" stroke="#6e6e6e" stroke-width="1"/>
<text transform="translate(198.00,530.00) scale(1,0.97)" text-anchor="middle">wavelength (&#197;)</text>
<text transform="translate(11.6,389.75) rotate(-90)" text-anchor="middle">f<tspan font-size="8.3" dy="3.4">&#955;</tspan><tspan dy="-3.4"> (10</tspan><tspan font-size="9.0" dy="-4.6">&#8722;19</tspan><tspan dy="4.6"> erg s</tspan><tspan font-size="9.0" dy="-4.6">&#8722;1</tspan><tspan dy="4.6"> cm</tspan><tspan font-size="9.0" dy="-4.6">&#8722;2</tspan><tspan dy="4.6"> &#197;</tspan><tspan font-size="9.0" dy="-4.6">&#8722;1</tspan><tspan dy="4.6">)</tspan></text>
<text transform="translate(48.80,302.30) scale(1,0.97)">HSC17dsid</text>
<text transform="translate(48.80,316.00) scale(1,0.97)">host galaxy</text>
<text transform="translate(308.30,291.40) scale(1,0.97)" text-anchor="end">photometries</text>
<text transform="translate(308.30,301.40) scale(1,0.97)" text-anchor="end">best&#8722;fit spectrum at z=4.16</text>
<line x1="315.5" y1="287.7" x2="343.8" y2="287.7" stroke="#0000ff" stroke-width="1.3"/>
<line x1="315.5" y1="285.7" x2="315.5" y2="289.7" stroke="#0000ff" stroke-width="1.3"/>
<line x1="343.8" y1="285.7" x2="343.8" y2="289.7" stroke="#0000ff" stroke-width="1.3"/>
<circle cx="329.6" cy="287.7" r="3.4" fill="#0000ff"/>
<line x1="315.5" y1="298.0" x2="343.8" y2="298.0" stroke="#fbb932" stroke-width="1.4"/>
</svg>
</body></html>
